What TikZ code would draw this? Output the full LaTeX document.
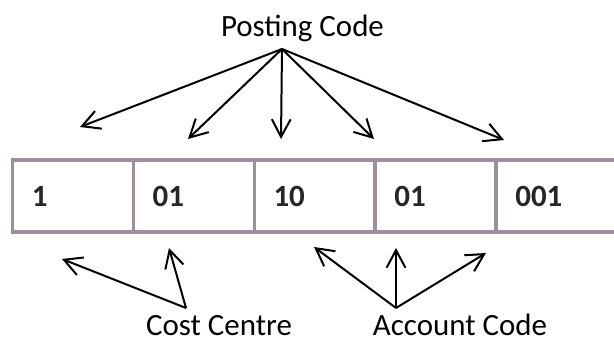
\documentclass[tikz,border=0pt]{standalone}
\usepackage{fontspec}
\setmainfont{Carlito}
\usepackage{tikz}
\usetikzlibrary{positioning,arrows.meta,calc}
\definecolor{cellgray}{RGB}{158,142,160}
\definecolor{digitgray}{RGB}{38,38,38}
\tikzset{
    on grid,
    node distance=3.0225cm,
    segment/.style = {
        draw=cellgray,
        shape=rectangle,
        minimum height=1.8cm,
        minimum width=3.0225cm,
        line width=0.09cm,
        inner xsep=0.48cm,
        text width=2.06cm,
        align=left,
        text=digitgray,
        font=\fontsize{22}{26}\selectfont\bfseries
    },
    codename/.style = {
        anchor=base,
        inner sep=0pt,
        font=\fontsize{22}{26}\selectfont
    },
    pointer/.style = {
        draw,
        line width=0.05cm,
        ->
    },
    >={Straight Barb[length=0.44cm,width=0.47cm]},
}

\begin{document}
\begin{tikzpicture}
            \useasboundingbox (0,0) rectangle (15.35,8.525);

            % the five parts of the code
            \node[segment] (cc1) at (1.824,3.625) {1};
            \node[segment, right=of cc1] (cc2) {01};
            \node[segment, right=of cc2] (ac1) {10};
            \node[segment, right=of ac1] (ac2) {01};
            \node[segment, right=of ac2] (ac3) {001};

            \node[codename] (posting) at (7.5625,7.6) {Posting Code};
            \node[codename] (costcentre) at (5.475,0.14) {Cost Centre};
            \node[codename] (account) at (11.5,0.14) {Account Code};

            % where the arrows meet, and where they point to
            \coordinate (postapex) at (7.05,7.3);
            \coordinate (pt1) at (2.0,5.35);
            \coordinate (pt2) at (4.7,5.05);
            \coordinate (pt3) at (7.025,5.05);
            \coordinate (pt4) at (9.35,5.05);
            \coordinate (pt5) at (12.6,5.025);

            \coordinate (ccapex) at (4.65,0.825);
            \coordinate (cct1) at (1.55,2.05);
            \coordinate (cct2) at (4.225,2.325);

            \coordinate (acapex) at (9.9,0.825);
            \coordinate (act1) at (7.85,2.35);
            \coordinate (act2) at (9.9,2.325);
            \coordinate (act3) at (12.15,2.2);

            \foreach \t in {pt1,pt2,pt3,pt4,pt5}
                \path[pointer] (postapex) -- (\t);

            \path[pointer] (ccapex) -- (cct1);
            \path[pointer] (ccapex) -- (cct2);

            \path[pointer] (acapex) -- (act1);
            \path[pointer] (acapex) -- (act2);
            \path[pointer] (acapex) -- (act3);

        \end{tikzpicture}
\end{document}
